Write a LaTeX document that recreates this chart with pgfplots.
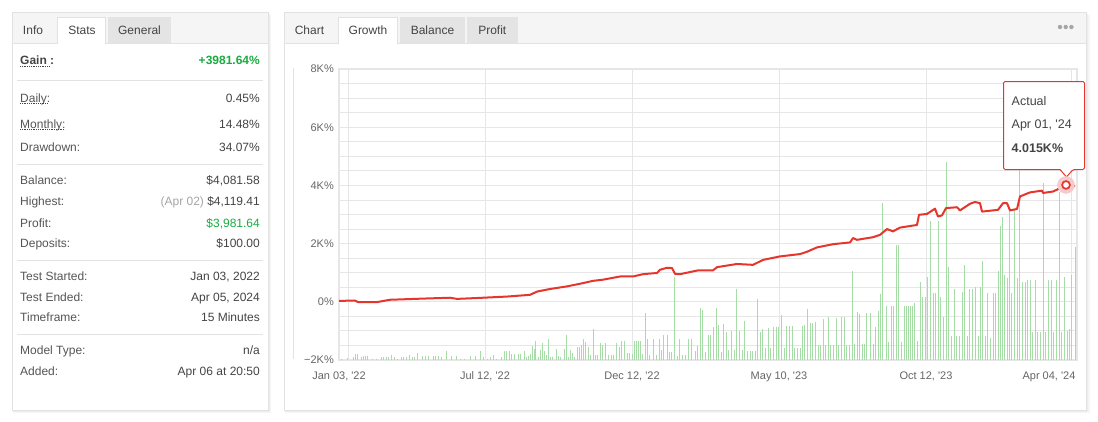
\documentclass[border=0pt]{standalone}
\usepackage{fontspec}
\setmainfont{Liberation Sans}[Ligatures=TeXOff]
\usepackage{pgfplots}
\pgfplotsset{compat=1.18}
\definecolor{gridc}{HTML}{E6E6E6}
\definecolor{bordc}{HTML}{E2E2E2}
\definecolor{headc}{HTML}{F5F5F5}
\definecolor{tabc}{HTML}{E4E4E4}
\definecolor{lblc}{HTML}{555555}
\definecolor{valc}{HTML}{444444}
\definecolor{greenv}{HTML}{1AAB40}
\definecolor{barc}{HTML}{A6DCA6}
\definecolor{linec}{HTML}{E5352D}
\definecolor{tickc}{HTML}{666666}
\definecolor{halo}{HTML}{F6CACA}

\pgfplotstableread{
x h
2.3 1
8.3 2
14.3 3
16.3 6
18.3 6
22.3 3
24.3 4
26.3 4
28.3 4
33 1
37 1
42.3 3
44.3 3
47.7 3
49.7 3
52.3 5
55 3
58.3 1
62.3 3
64.3 3
67.7 3
70.3 5
73 3
75.7 3
78.3 7
83.7 4
86.3 4
89 4
94.3 4
96.3 4
99 4
102.3 3
107.3 9
112.3 4
117 4
121 1
125.7 1
131.7 4
136.3 4
141.7 9
144.3 3
148.3 1
151.7 3
154.3 5
157 1
162.3 3
165 9
167.7 9
170.3 9
172.3 6
175.7 6
179 6
181.7 6
185 9
187.3 3
189.3 4
191.3 6
193.3 14
195.3 11
196.7 19
199.3 3
201.3 10
203.3 17
205.3 9
207.3 5
209.3 21
211.3 3
213.3 3
217.3 11
219.3 4
221.3 3
225.3 11
227.3 25
229.3 3
231.3 10
233.3 7
235.3 3
238 13
240 13
242.7 15
244.7 21
246.7 18
249.3 13
251.3 5
254.7 31
256.7 5
258.7 5
261.3 17
263.3 15
266.7 17
269.3 5
272 5
274 5
277.3 17
280 13
282.7 19
285.3 19
288 7
290.7 7
293.3 6
295.3 19
297.3 19
299.3 19
301.3 19
303.3 6
306 47
308 21
310.7 5
314.7 21
317.3 5
320 21
322 10
324 25
328 25
330 8
332.7 8
335.3 83
338.7 4
340.7 21
343.3 5
346 5
349.3 21
352 21
356 9
358 14
361.3 52
363.3 50
366 8
369.3 25
371.7 25
374.3 33
377 52
379.7 35
382.3 8
384.3 36
387 28
389.7 10
392.3 29
395 10
397.7 71
400.3 29
403 10
405.7 39
408.3 9
411 9
413.7 9
416.3 9
418.3 61
421 28
423.7 31
426.3 12
429 32
431.7 12
434.3 33
437 33
439.7 33
442.3 45
445 12
447.7 34
450.3 34
453 34
455.7 12
458.3 12
461 12
463 34
465.7 35
468.3 51
471 37
473.7 37
476.3 38
479.7 15
481.7 15
484.3 41
486.3 15
489 43
491.7 15
494.3 15
497 42
499.7 15
502.3 43
505 43
507.7 15
510.3 15
513.7 89
515.7 16
518.3 48
520.3 46
523 16
525.7 16
527.7 47
531 47
534.3 16
536.3 33
539 49
541 66
543.7 157
547 54
549.7 18
552.3 54
554.3 54
557 115
559.7 115
562 18
565.3 54
567.3 54
569.3 54
571.3 54
573.3 54
575.3 57
578 19
581.3 78
583.3 63
586 63
588 83
591.3 139
594 67
596 67
599.3 139
601.3 63
604.7 43
607.3 198
609.3 93
612.7 24
615.3 71
617.3 24
620 24
623.3 68
625.3 95
628 24
630.7 71
633.3 71
636 73
639.3 24
641.3 73
643.3 99
646 24
648.7 67
651.3 22
654 67
656.7 67
659.3 89
661.3 134
663.3 143
665.3 85
668 82
670.7 150
672.7 67
675.3 150
678 82
680 200
683.3 78
686 78
688.7 80
691.3 80
693.3 28
696 80
698.7 28
701.3 28
704.7 177
706.7 28
709.3 80
712 80
714.7 28
717.3 80
720 168
722.7 28
725.3 83
728 29
730 31
732.7 85
736 113
}\bars

\pgfplotstableread{
x g
0 0.03
16 0.045
19 -0.01
38 -0.01
51 0.07
84 0.11
111 0.14
118 0.10
138 0.13
168 0.18
191 0.24
198 0.35
211 0.44
228 0.53
241 0.62
254 0.72
264 0.76
281 0.87
294 0.87
304 0.95
318 0.99
321 1.10
328 1.17
333 1.16
336 0.96
341 0.95
359 1.08
374 1.08
378 1.19
398 1.30
414 1.27
424 1.44
441 1.56
461 1.64
468 1.72
478 1.87
494 1.98
511 2.04
514 2.19
518 2.13
534 2.22
541 2.30
548 2.50
554 2.42
561 2.55
574 2.62
578 2.64
580 2.99
588 3.02
596 3.20
599 2.93
603 2.97
607 3.22
618 3.25
621 3.14
631 3.37
636 3.43
641 3.39
643 3.10
659 3.16
664 3.39
668 3.39
671 3.14
678 3.19
681 3.62
691 3.76
703 3.82
704 3.74
714 3.79
719 3.87
721 3.96
727 4.015
733 3.96
736 3.99
}\growth

\tikzset{t/.style={inner sep=0pt, text height=8.6pt, text depth=0pt}}
\newcommand\row[3]{%
  \node[t, anchor=west, text=lblc] at (20,#1) {#2};
  \node[t, anchor=east, text=valc] at (260,#1) {#3};}

\begin{document}
\begin{tikzpicture}[x=1pt,y=-1pt, font=\fontsize{12}{14}\selectfont]
\useasboundingbox (0,0) rectangle (1098,421);
\fill[white] (0,0) rectangle (1098,421);

% ---------- panels with shadow ----------
\foreach \a/\b/\c/\d in {12/12.5/268/410, 284/12.5/1086.5/410}{
  \fill[black!4] (\a+1,\b+2) rectangle (\c+3,\d+3);
  \fill[black!7] (\a+0.5,\b+1) rectangle (\c+1.5,\d+1.5);
  \filldraw[fill=white, draw=bordc, line width=0.8pt] (\a,\b) rectangle (\c,\d);
  \filldraw[fill=headc, draw=bordc, line width=0.8pt] (\a,\b) rectangle (\c,43.5);
}
% left tabs
\filldraw[fill=white, draw=bordc, line width=0.6pt] (57.7,43.5) -- (57.7,17.3) -- (105.7,17.3) -- (105.7,43.5);
\fill[white] (58.2,42) rectangle (105.2,44.3);
\fill[tabc] (107.7,17.3) rectangle (171,43.1);
\node[t, text=valc] at (33,30) {Info};
\node[t, text=valc] at (82,30) {Stats};
\node[t, text=valc] at (139.5,30) {General};
% right tabs
\filldraw[fill=white, draw=bordc, line width=0.6pt] (338.3,43.5) -- (338.3,17.3) -- (397.7,17.3) -- (397.7,43.5);
\fill[white] (338.8,42) rectangle (397.2,44.3);
\fill[tabc] (400,17.3) rectangle (465,43.1);
\fill[tabc] (467,17.3) rectangle (517.7,43.1);
\node[t, text=valc] at (309.5,30) {Chart};
\node[t, text=valc] at (368,30) {Growth};
\node[t, text=valc] at (432.5,30) {Balance};
\node[t, text=valc] at (492.3,30) {Profit};
\foreach \xx in {1060,1065.7,1071.4} \fill[black!35] (\xx,27) circle (2.2);

% ---------- left stats ----------
\node[t, anchor=west, text=valc, font=\fontsize{12}{14}\selectfont\bfseries] at (20,60) {Gain :};
\node[t, anchor=east, text=greenv, font=\fontsize{12}{14}\selectfont\bfseries] at (260,60) {+3981.64\%};
\draw[valc, line width=0.9pt, dash pattern=on 0.9pt off 0.9pt] (20,66.7) -- (50,66.7);
\draw[bordc, line width=0.8pt] (17,80) -- (263,80);
\row{98.3}{Daily:}{0.45\%}
\draw[valc, line width=0.9pt, dash pattern=on 0.9pt off 0.9pt] (20,103.6) -- (48,103.6);
\row{124.3}{Monthly:}{14.48\%}
\draw[valc, line width=0.9pt, dash pattern=on 0.9pt off 0.9pt] (20,129.4) -- (65,129.4);
\row{146.7}{Drawdown:}{34.07\%}
\draw[bordc, line width=0.8pt] (17,164) -- (263,164);
\row{180}{Balance:}{\$4,081.58}
\row{200.7}{Highest:}{{\color{black!35}(Apr 02)} \$4,119.41}
\node[t, anchor=west, text=lblc] at (20,222.7) {Profit:};
\node[t, anchor=east, text=greenv] at (260,222.7) {\$3,981.64};
\row{243.3}{Deposits:}{\$100.00}
\draw[bordc, line width=0.8pt] (17,260.7) -- (263,260.7);
\row{276}{Test Started:}{Jan 03, 2022}
\row{296.7}{Test Ended:}{Apr 05, 2024}
\row{317.3}{Timeframe:}{15 Minutes}
\draw[bordc, line width=0.8pt] (17,334.3) -- (263,334.3);
\row{350}{Model Type:}{n/a}
\row{370.7}{Added:}{Apr 06 at 20:50}

% ---------- chart ----------
\draw[bordc, line width=1.4pt] (293.5,68) -- (293.5,359);

\begin{axis}[
  at={(339pt,-360pt)}, anchor=south west,
  width=738pt, height=291pt, scale only axis,
  xmin=0, xmax=738, ymin=-2, ymax=8,
  xtick={0,146,293,440,587},
  xticklabels={{Jan 03, '22},{Jul 12, '22},{Dec 12, '22},{May 10, '23},{Oct 12, '23}},
  extra x ticks={9,732}, extra x tick labels={{},{Apr 04, '24}},
  extra x tick style={grid style={draw=gridc, line width=1.2pt}, xticklabel style={xshift=-22pt}},
  ytick={-2,0,2,4,6,8},
  yticklabels={{−2K\%},{0\%},{2K\%},{4K\%},{6K\%},{8K\%}},
  minor y tick num=3,
  grid=both,
  major grid style={draw=gridc, line width=0.9pt},
  minor grid style={draw=gridc, line width=0.9pt},
  axis line style={draw=gridc, line width=1.4pt},
  tick style={draw=none},
  yticklabel style={anchor=east, inner sep=0pt, text height=7.9pt, text depth=0pt, xshift=-5pt, text=tickc, font=\fontsize{11}{13}\selectfont},
  xticklabel style={anchor=center, inner sep=0pt, text height=7.9pt, text depth=0pt, yshift=-15.5pt, text=tickc, font=\fontsize{11}{13}\selectfont},
]
\addplot[draw=none] coordinates {(0,0)};
\end{axis}

\begin{axis}[
  at={(339pt,-360pt)}, anchor=south west,
  width=738pt, height=291pt, scale only axis,
  xmin=0, xmax=738, ymin=0, ymax=291, hide axis]
\addplot[ycomb, draw=barc, line width=1pt, no marks] table[x=x, y=h] {\bars};
\end{axis}

% tooltip
\draw[linec, line width=1pt, fill=white, rounded corners=1.5pt]
  (1003.5,81.5) -- (1084.5,81.5) -- (1084.5,169.5) -- (1073,169.5) [sharp corners] -- (1066.5,177) -- (1060,169.5) [rounded corners=1.5pt] -- (1003.5,169.5) -- cycle;
\node[anchor=west, inner sep=0pt, text height=9pt, text depth=0pt, text=valc, font=\fontsize{12.5}{14}\selectfont] at (1011.5,100.5) {Actual};
\node[anchor=west, inner sep=0pt, text height=9pt, text depth=0pt, text=valc, font=\fontsize{12.5}{14}\selectfont] at (1011.5,124) {Apr 01, '24};
\node[anchor=west, inner sep=0pt, text height=9pt, text depth=0pt, text=valc, font=\fontsize{12.5}{14}\selectfont\bfseries] at (1011.5,147.5) {4.015K\%};

\begin{axis}[
  at={(339pt,-360pt)}, anchor=south west,
  width=738pt, height=291pt, scale only axis,
  xmin=0, xmax=738, ymin=-2, ymax=8, hide axis, clip=false]
\addplot[draw=linec, line width=2pt, line join=round, no marks] table[x=x, y=g] {\growth};
\addplot[only marks, color=halo, mark=*, mark size=8.5pt, mark options={draw=halo, fill=halo}] coordinates {(727,4.015)};
\addplot[only marks, color=linec, mark=*, mark size=3.9pt, mark options={draw=linec, fill=white, line width=1.7pt}] coordinates {(727,4.015)};
\end{axis}
\end{tikzpicture}
\end{document}
